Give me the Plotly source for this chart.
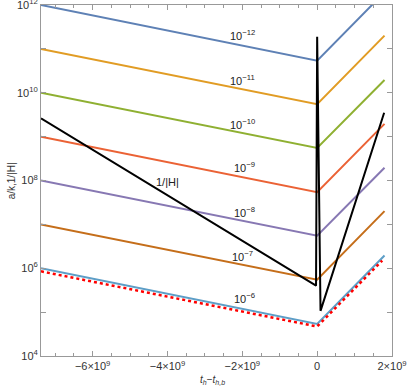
import math
import plotly.graph_objects as go

# knots in t_h - t_{h,b}: start, bounce, end
t_knots = [-7.38e9, 0.0, 1.8e9]

# a/k for the different k values
k_labels = ["10<sup>−12</sup>", "10<sup>−11</sup>", "10<sup>−10</sup>", "10<sup>−9</sup>",
            "10<sup>−8</sup>", "10<sup>−7</sup>", "10<sup>−6</sup>"]
ak_12 = [1.0e12, 5.4e10, 1.95e12]
ak_11 = [1.0e11, 5.5e9, 2.0e11]
ak_10 = [1.0e10, 5.5e8, 1.95e10]
ak_9 = [1.0e9, 5.4e7, 1.95e9]
ak_8 = [1.0e8, 5.5e6, 1.95e8]
ak_7 = [1.0e7, 5.5e5, 2.0e7]
ak_6 = [1.0e6, 5.4e4, 1.95e6]
colors = ["#5E81B5", "#E19C24", "#8FB032", "#EB6235", "#8778B3", "#C56E1A", "#5D9EC7"]

# red dotted reference curve
t_dot = [-7.38e9, 0.0, 1.74e9]
dot_vals = [8.5e5, 4.7e4, 1.5e6]

# 1/|H|
t_hub = [-7.38e9, -0.03e9, 0.0, 0.09e9, 1.79e9]
inv_h = [2.6e9, 4.0e5, 1.9e11, 1.07e5, 3.5e9]

# label positions
label_t = [-2.0e9, -2.0e9, -2.0e9, -1.95e9, -1.95e9, -2.0e9, -1.95e9]
label_y = [2.1e11, 1.95e10, 1.95e9, 2.05e8, 1.9e7, 1.9e6, 2.15e5]

fig = go.Figure()

series = [ak_12, ak_11, ak_10, ak_9, ak_8, ak_7, ak_6]
for vals, c in zip(series, colors):
    fig.add_trace(go.Scatter(x=t_knots, y=vals, mode="lines",
                             line=dict(color=c, width=2)))

fig.add_trace(go.Scatter(x=t_dot, y=dot_vals, mode="lines",
                         line=dict(color="#FF0000", width=2.5, dash="dot")))
fig.add_trace(go.Scatter(x=t_hub, y=inv_h, mode="lines",
                         line=dict(color="black", width=2)))

# annotations on a log axis take log10 positions
for txt, xx, yy in zip(k_labels, label_t, label_y):
    fig.add_annotation(x=xx, y=math.log10(yy), text=txt, showarrow=False,
                       font=dict(size=11, color="#222"))
fig.add_annotation(x=-3.99e9, y=math.log10(9.3e7), text="1/|H|", showarrow=False,
                   font=dict(size=11, color="#222"))

# axis titles
fig.add_annotation(x=-0.083, y=0.5, xref="paper", yref="paper", text="a/k,1/|H|",
                   xanchor="center", yanchor="middle",
                   textangle=-90, showarrow=False, font=dict(size=10, color="#333"))
fig.add_annotation(x=0.49, y=-0.068, xref="paper", yref="paper",
                   xanchor="center", yanchor="middle",
                   text="<i>t<sub>h</sub></i>−<i>t<sub>h,b</sub></i>",
                   showarrow=False, font=dict(size=10, color="#333"))

ytick_vals = [10.0 ** p for p in range(4, 13)]
ytick_text = ["10<sup>%d</sup>" % p if p % 2 == 0 else "" for p in range(4, 13)]

fig.update_layout(
    width=407, height=389,
    margin=dict(l=41, r=15, t=5, b=33),
    plot_bgcolor="white", paper_bgcolor="white",
    showlegend=False,
    font=dict(family="Liberation Sans, Arial", size=11, color="#333"),
    xaxis=dict(range=[-7.38e9, 2.0e9], showgrid=False, zeroline=False, automargin=False,
               showline=True, linecolor="#999", linewidth=1, mirror="allticks",
               ticks="inside", ticklen=5, tickcolor="#999", ticklabeloverflow="allow",
               tickvals=[-6e9, -4e9, -2e9, 0, 2e9],
               ticktext=["−6×10<sup>9</sup>", "−4×10<sup>9</sup>", "−2×10<sup>9</sup>", "0", "2×10<sup>9</sup>"],
               minor=dict(dtick=0.5e9, tick0=0, ticks="inside", ticklen=3, tickcolor="#999")),
    yaxis=dict(type="log", range=[3.9999, 12.0001], showgrid=False, zeroline=False, automargin=False,
               showline=True, linecolor="#999", linewidth=1, mirror="allticks",
               ticks="inside", ticklen=5, tickcolor="#999", ticklabeloverflow="allow",
               tickvals=ytick_vals, ticktext=ytick_text),
)

# drop the default page margin so the figure sits at the window corner
fig.write_html("out.html", config={"displayModeBar": False},
               post_script="document.body.style.margin='0';")
